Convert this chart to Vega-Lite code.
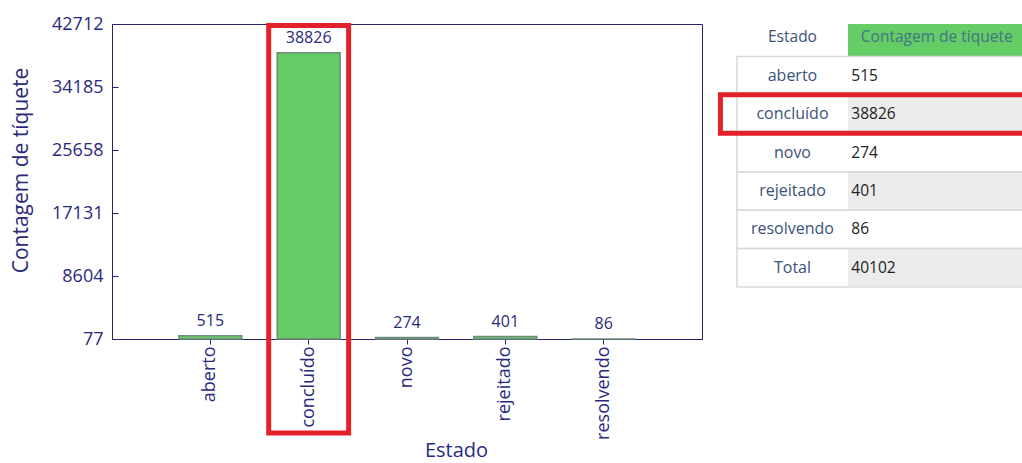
{
  "$schema": "https://vega.github.io/schema/vega-lite/v6.json",
  "padding": {"left": 10, "top": 14, "right": 0, "bottom": 0},
  "background": "white",
  "spacing": 14,
  "config": {"font": "Open Sans", "view": {"stroke": "#25256e", "strokeWidth": 1}},
  "datasets": {
    "tickets": [
      {"Estado": "aberto", "Contagem": 515},
      {"Estado": "concluído", "Contagem": 38826},
      {"Estado": "novo", "Contagem": 274},
      {"Estado": "rejeitado", "Contagem": 401},
      {"Estado": "resolvendo", "Contagem": 86}
    ],
    "tabela": [
      {"Estado": "aberto", "Contagem": 515},
      {"Estado": "concluído", "Contagem": 38826},
      {"Estado": "novo", "Contagem": 274},
      {"Estado": "rejeitado", "Contagem": 401},
      {"Estado": "resolvendo", "Contagem": 86},
      {"Estado": "Total", "Contagem": 40102}
    ]
  },
  "hconcat": [
    {
      "width": 590,
      "height": 315,
      "data": {"name": "tickets"},
      "encoding": {
        "x": {
          "field": "Estado", "type": "nominal", "sort": null, "title": "Estado",
          "scale": {"paddingInner": 0.36, "paddingOuter": 0.68},
          "axis": {
            "labelAngle": -90, "labelAlign": "right", "labelBaseline": "middle",
            "labelFontSize": 18, "labelColor": "#2a2a7c", "labelPadding": 2,
            "tickColor": "#25256e", "tickSize": 5, "domainColor": "#25256e",
            "titleFontSize": 20, "titleFontWeight": "normal", "titleColor": "#2a2a7c",
            "titleX": 344, "titlePadding": 1
          }
        }
      },
      "layer": [
        {
          "mark": {"type": "bar", "fill": "#66cc66", "stroke": "#6f8c7c", "strokeWidth": 1.5},
          "encoding": {
            "y": {
              "field": "Contagem", "type": "quantitative", "title": "Contagem de tíquete",
              "scale": {"domain": [77, 42712], "nice": false, "zero": false},
              "axis": {
                "values": [77, 4340.5, 8604, 12867.5, 17131, 21394.5, 25658, 29921.5, 34185, 38448.5, 42712],
                "labelExpr": "datum.value % 1 ? '' : datum.label",
                "format": "d", "grid": false, "labelOverlap": false, "labelFlush": false,
                "tickSize": -6, "labelPadding": 15, "labelFontSize": 18, "labelColor": "#2a2a7c",
                "tickColor": "#25256e", "domainColor": "#25256e",
                "titleFontSize": 21, "titleFontWeight": "normal", "titleColor": "#2a2a7c",
                "titlePadding": 20, "titleY": 146
              }
            },
            "y2": {"datum": 77}
          }
        },
        {
          "mark": {"type": "text", "baseline": "alphabetic", "dy": -10, "fontSize": 16, "color": "#2a2a7c"},
          "encoding": {
            "y": {"field": "Contagem", "type": "quantitative"},
            "text": {"field": "Contagem", "type": "quantitative", "format": "d"}
          }
        },
        {
          "transform": [{"filter": "datum.Estado == 'concluído'"}],
          "mark": {"type": "bar", "fill": "transparent", "stroke": "#e3212b", "strokeWidth": 5, "width": {"band": 1.27}, "yOffset": 1.5, "y2Offset": 94},
          "encoding": {
            "y": {"datum": 42712, "type": "quantitative"},
            "y2": {"datum": 77}
          }
        }
      ]
    },
    {
      "width": 306,
      "height": 269,
      "view": {"stroke": null},
      "data": {"name": "tabela"},
      "transform": [{"window": [{"op": "row_number", "as": "linha"}]}],
      "encoding": {
        "y": {
          "field": "Estado", "type": "nominal", "sort": null,
          "scale": {"domain": ["Estado", "aberto", "concluído", "novo", "rejeitado", "resolvendo", "Total"], "range": [-6, 263], "paddingInner": 0, "paddingOuter": 0},
          "axis": null
        }
      },
      "layer": [
        {
          "transform": [{"filter": "datum.linha == 1"}],
          "mark": {"type": "rect", "clip": true, "fill": "#66cc66"},
          "encoding": {
            "x": {"datum": 1, "type": "quantitative", "scale": {"domain": [-0.18, 2.577], "nice": false, "zero": false}, "axis": null},
            "x2": {"datum": 3},
            "y": {"datum": "Estado", "type": "nominal"}
          }
        },
        {
          "mark": {"type": "rect", "clip": true},
          "encoding": {
            "x": {"datum": 1, "type": "quantitative"},
            "x2": {"datum": 3},
            "fill": {"condition": {"test": "datum.linha % 2 == 0", "value": "#ececec"}, "value": "#ffffff"}
          }
        },
        {
          "mark": {"type": "rect", "clip": true, "fill": "transparent", "stroke": "#d9d9d9", "strokeWidth": 1.5},
          "encoding": {
            "x": {"datum": 0, "type": "quantitative"},
            "x2": {"datum": 3}
          }
        },
        {
          "mark": {"type": "text", "align": "center", "baseline": "middle", "fontSize": 16, "color": "#3b5178"},
          "encoding": {
            "x": {"datum": 0.5, "type": "quantitative"},
            "text": {"field": "Estado", "type": "nominal"},
            "fontWeight": {"condition": {"test": "datum.Estado == 'Total'", "value": 600}, "value": 400}
          }
        },
        {
          "mark": {"type": "text", "align": "left", "baseline": "middle", "fontSize": 15.5, "color": "#222222"},
          "encoding": {
            "x": {"datum": 1.03, "type": "quantitative"},
            "text": {"field": "Contagem", "type": "quantitative", "format": "d"}
          }
        },
        {
          "transform": [{"filter": "datum.linha == 1"}],
          "mark": {"type": "text", "align": "center", "baseline": "middle", "fontSize": 15.5, "color": "#3b5178"},
          "encoding": {
            "x": {"datum": 0.5, "type": "quantitative"},
            "y": {"datum": "Estado", "type": "nominal"},
            "text": {"value": "Estado"}
          }
        },
        {
          "transform": [{"filter": "datum.linha == 1"}],
          "mark": {"type": "text", "align": "center", "baseline": "middle", "fontSize": 15.5, "color": "#3f7585"},
          "encoding": {
            "x": {"datum": 1.8, "type": "quantitative"},
            "y": {"datum": "Estado", "type": "nominal"},
            "text": {"value": "Contagem de tíquete"}
          }
        },
        {
          "transform": [{"filter": "datum.Estado == 'concluído'"}],
          "mark": {"type": "rect", "clip": true, "fill": "transparent", "stroke": "#e3212b", "strokeWidth": 5},
          "encoding": {
            "x": {"datum": -0.149, "type": "quantitative"},
            "x2": {"datum": 3}
          }
        }
      ]
    }
  ]
}
